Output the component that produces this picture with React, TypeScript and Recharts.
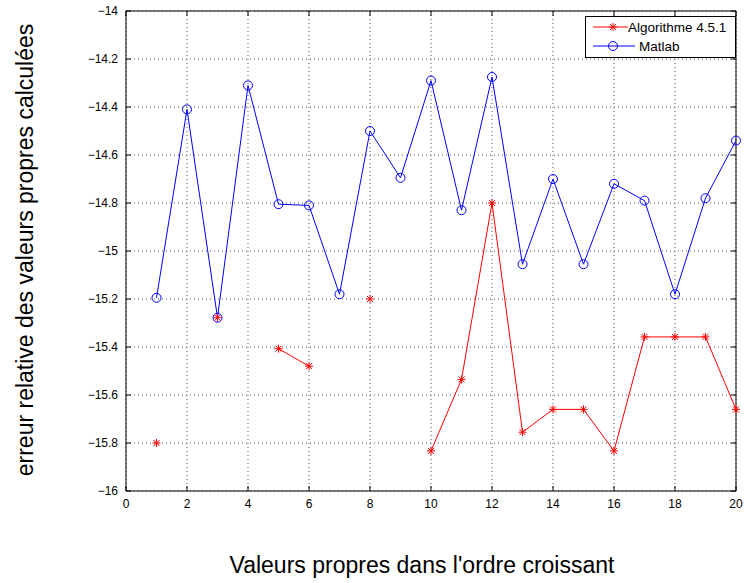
import {
  LineChart,
  Line,
  XAxis,
  YAxis,
  CartesianGrid,
  ReferenceLine,
  Legend,
} from "recharts";

// eigenvalue index (x axis)
const indices = [1, 2, 3, 4, 5, 6, 7, 8, 9, 10, 11, 12, 13, 14, 15, 16, 17, 18, 19, 20];

// log10 relative error, Matlab eig
const matlab = [
  -15.195, -14.41, -15.278, -14.31, -14.805, -14.81, -15.18, -14.5, -14.695, -14.29,
  -14.83, -14.275, -15.055, -14.7, -15.055, -14.72, -14.79, -15.18, -14.78, -14.54,
];

// log10 relative error, Algorithme 4.5.1 (null = exact, -Inf in the log plot)
const algo = [
  -15.8, null, -15.278, null, -15.407, -15.48, null, -15.2, null, -15.833,
  -15.535, -14.8, -15.755, -15.66, -15.66, -15.833, -15.358, -15.358, -15.358, -15.66,
];

const xTicks = [0, 2, 4, 6, 8, 10, 12, 14, 16, 18, 20];
const yTicks = [-16, -15.8, -15.6, -15.4, -15.2, -15, -14.8, -14.6, -14.4, -14.2, -14];
const yTickLabels = ["−16", "−15.8", "−15.6", "−15.4", "−15.2", "−15", "−14.8", "−14.6", "−14.4", "−14.2", "−14"];

const data = indices.map((i, k) => ({ i, matlab: matlab[k], algo: algo[k] }));

const W = 746;
const H = 583;
const LEFT = 126;
const RIGHT = 736;
const TOP = 11;
const BOTTOM = 491;
const FONT = "'Liberation Sans', Arial, Helvetica, sans-serif";

const StarDot = (props: any) => {
  const { cx, cy, key } = props;
  if (cx == null || cy == null || props.value == null) return <g key={key} />;
  const r = 4;
  const d = 3;
  return (
    <g key={key} stroke="#ff0000" strokeWidth={1}>
      <line x1={cx - r} y1={cy} x2={cx + r} y2={cy} />
      <line x1={cx} y1={cy - r} x2={cx} y2={cy + r} />
      <line x1={cx - d} y1={cy - d} x2={cx + d} y2={cy + d} />
      <line x1={cx - d} y1={cy + d} x2={cx + d} y2={cy - d} />
    </g>
  );
};

const CircleDot = (props: any) => {
  const { cx, cy, key } = props;
  if (cx == null || cy == null) return <g key={key} />;
  return <circle key={key} cx={cx} cy={cy} r={4.5} fill="none" stroke="#0000ff" strokeWidth={1} />;
};

const YTick = (props: any) => {
  const { y, payload } = props;
  const idx = yTicks.indexOf(payload.value);
  return (
    <g>
      <line x1={LEFT} y1={y} x2={LEFT + 5} y2={y} stroke="#000" />
      <line x1={RIGHT - 5} y1={y} x2={RIGHT} y2={y} stroke="#000" />
      <text x={LEFT - 8} y={y} textAnchor="end" dominantBaseline="central" fontSize={12} fontFamily={FONT} fill="#000">
        {yTickLabels[idx]}
      </text>
    </g>
  );
};

const XTick = (props: any) => {
  const { x, payload } = props;
  return (
    <g>
      <line x1={x} y1={BOTTOM} x2={x} y2={BOTTOM - 5} stroke="#000" />
      <line x1={x} y1={TOP} x2={x} y2={TOP + 5} stroke="#000" />
      <text x={x} y={BOTTOM + 17} textAnchor="middle" fontSize={12} fontFamily={FONT} fill="#000">
        {payload.value}
      </text>
    </g>
  );
};

const LegendBox = () => (
  <svg width={151} height={42} style={{ display: "block" }}>
    <rect x={0.5} y={0.5} width={150} height={41} fill="#fff" stroke="#000" />
    <line x1={8} y1={11} x2={43} y2={11} stroke="#ff0000" />
    <StarDot cx={28} cy={11} value={1} />
    <text x={43} y={11} dominantBaseline="central" fontSize={13.5} fontFamily={FONT} fill="#000">
      Algorithme 4.5.1
    </text>
    <line x1={8} y1={30} x2={50} y2={30} stroke="#0000ff" />
    <CircleDot cx={28} cy={30} />
    <text x={54} y={30} dominantBaseline="central" fontSize={13.5} fontFamily={FONT} fill="#000">
      Matlab
    </text>
  </svg>
);

export default function App() {
  return (
    <div style={{ position: "absolute", left: 0, top: 0, width: W, height: H, background: "#fff" }}>
      <LineChart
        width={W}
        height={H}
        data={data}
        margin={{ top: TOP, right: W - RIGHT, bottom: H - BOTTOM - 40, left: 0 }}
      >
        <CartesianGrid stroke="#555" strokeDasharray="1 3" strokeWidth={1} />
        <XAxis
          dataKey="i"
          type="number"
          domain={[0, 20]}
          ticks={xTicks}
          interval={0}
          height={40}
          tickSize={0}
          tick={<XTick />}
          axisLine={{ stroke: "#000" }}
          label={{
            content: () => (
              <text x={422} y={573} textAnchor="middle" fontSize={23} fontFamily={FONT} fill="#000">
                Valeurs propres dans l'ordre croissant
              </text>
            ),
          }}
        />
        <YAxis
          type="number"
          domain={[-16, -14]}
          ticks={yTicks}
          interval={0}
          width={LEFT}
          tickSize={0}
          tick={<YTick />}
          axisLine={{ stroke: "#000" }}
          allowDataOverflow
          label={{
            content: () => (
              <text
                x={25}
                y={250}
                transform="rotate(-90 25 250)"
                textAnchor="middle"
                dominantBaseline="central"
                fontSize={23}
                fontFamily={FONT}
                fill="#000"
              >
                erreur relative des valeurs propres calculées
              </text>
            ),
          }}
        />
        <ReferenceLine x={20} stroke="#000" />
        <ReferenceLine y={-14} stroke="#000" />
        <Legend
          layout="vertical"
          align="center"
          verticalAlign="middle"
          wrapperStyle={{ top: 16, left: 585, width: 151, height: 42 }}
          content={() => <LegendBox />}
        />
        <Line
          dataKey="matlab"
          name="Matlab"
          type="linear"
          stroke="#0000ff"
          strokeWidth={1}
          dot={CircleDot}
          activeDot={false}
          isAnimationActive={false}
        />
        <Line
          dataKey="algo"
          name="Algorithme 4.5.1"
          type="linear"
          stroke="#ff0000"
          strokeWidth={1}
          dot={StarDot}
          activeDot={false}
          connectNulls={false}
          isAnimationActive={false}
        />
      </LineChart>
    </div>
  );
}
